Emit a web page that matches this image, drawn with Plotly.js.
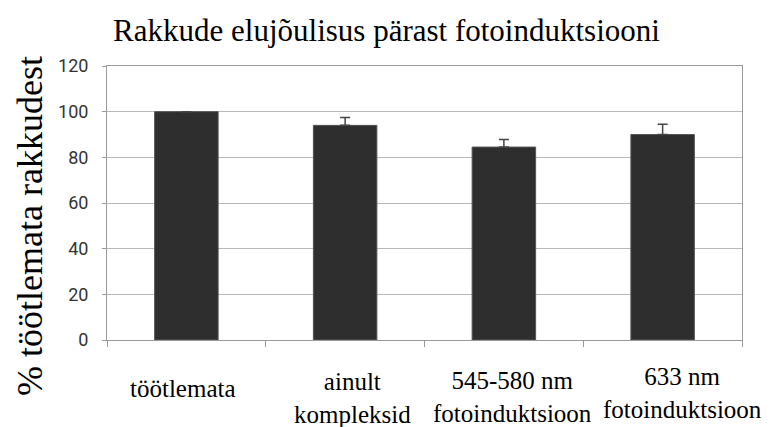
<!DOCTYPE html>
<html>
<head>
<meta charset="utf-8">
<script src="https://cdn.plot.ly/plotly-3.0.1.min.js"></script>
<style>html,body{margin:0;padding:0;background:#fff;}#chart{width:773px;height:427px;}</style>
</head>
<body>
<div id="chart"></div>
<script>
var categories = ["töötlemata", "ainult kompleksid", "545-580 nm fotoinduktsioon", "633 nm fotoinduktsioon"];
var tickLabels = ["töötlemata", "ainult<br>kompleksid", "545-580 nm<br>fotoinduktsioon", "633 nm<br>fotoinduktsioon"];
var values = [100, 94, 84.5, 90];
var errors = [0, 3.5, 3.3, 4.5];
var yTicks = [0, 20, 40, 60, 80, 100, 120];
var yTitle = "% töötlemata rakkudest";
var chartTitle = "Rakkude elujõulisus pärast fotoinduktsiooni";

// label placement tweaks (pixels) to follow the hand-placed labels of the original
var labelShiftX = [-3, 7, 9, 20];
var labelShiftY = [-48, -58, -57, -53];

var serif = "Liberation Serif";

var trace = {
  type: "bar",
  x: categories,
  y: values,
  width: 0.4,
  marker: {color: "#2e2e2e", line: {color: "#555555", width: 1}},
  error_y: {type: "data", array: errors, arrayminus: errors.map(function(){return 0;}), symmetric: false,
            color: "#444444", thickness: 1.5, width: 5},
  hoverinfo: "skip"
};

var annotations = categories.map(function(c, i) {
  return {
    x: c, xref: "x", y: 0, yref: "paper",
    text: tickLabels[i], showarrow: false,
    xanchor: "center", yanchor: "middle",
    xshift: labelShiftX[i], yshift: labelShiftY[i],
    font: {family: serif, size: 25, color: "#000"}
  };
});
annotations.push({
  x: 0, xref: "paper", y: 0.5, yref: "paper",
  text: yTitle, showarrow: false, textangle: -90,
  xanchor: "center", yanchor: "middle", xshift: -77, yshift: -23,
  font: {family: serif, size: 36, color: "#000"}
});

var layout = {
  width: 773, height: 427,
  margin: {l: 107, r: 31, t: 66, b: 87},
  paper_bgcolor: "#ffffff", plot_bgcolor: "#ffffff",
  showlegend: false,
  title: {text: chartTitle,
          font: {family: serif, size: 31, color: "#000"},
          x: 0.5, xref: "container", xanchor: "center", y: 0.93, yref: "container", yanchor: "middle"},
  xaxis: {
    type: "category",
    showticklabels: false,
    tickson: "boundaries", ticks: "outside", ticklen: 6, tickcolor: "#999999",
    showline: true, linecolor: "#999999", linewidth: 1, mirror: true,
    showgrid: false, zeroline: false,
    range: [-0.5, 3.5], fixedrange: true
  },
  yaxis: {
    range: [0, 120], tickvals: yTicks, ticktext: yTicks.map(String),
    ticks: "outside", ticklen: 4, tickcolor: "#999999", ticklabelstandoff: 10,
    tickfont: {family: "Roboto", size: 18, color: "#333333"},
    showline: true, linecolor: "#999999", linewidth: 1, mirror: true,
    showgrid: true, gridcolor: "#b8b8b8", gridwidth: 1,
    zeroline: false,
    automargin: false, fixedrange: true
  },
  annotations: annotations
};

Plotly.newPlot("chart", [trace], layout, {displayModeBar: false, staticPlot: true});
</script>
</body>
</html>
